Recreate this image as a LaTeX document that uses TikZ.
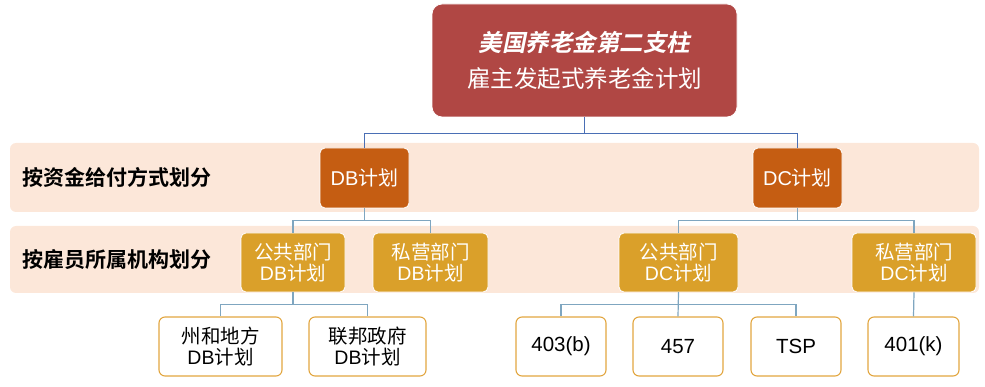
\documentclass[tikz,border=0pt]{standalone}
\usepackage{fontspec}
\setmainfont{Liberation Sans}
\newfontfamily\cjk{Noto Sans CJK SC}
\newfontfamily\cjkB{Noto Sans CJK SC Bold}
\newfontfamily\cjkBI[FakeSlant=0.2]{Noto Sans CJK SC Bold}
\definecolor{topred}{HTML}{B04744}
\definecolor{dborange}{HTML}{C55D12}
\definecolor{goldbox}{HTML}{DAA02A}
\definecolor{bandcol}{HTML}{FCE7D9}
\definecolor{leafborder}{HTML}{E2A640}
\definecolor{linecol}{HTML}{7FA6C0}
\definecolor{topblue}{HTML}{4A6FB5}
\begin{document}
\begin{tikzpicture}[x=1pt,y=-1pt,
  topbox/.style={fill=topred, draw=white, line width=0.8pt, rounded corners=10pt, text=white, align=center, inner sep=0pt, font=\fontsize{23.5}{36}\selectfont},
  lonebox/.style={fill=dborange, draw=white, line width=0.8pt, rounded corners=5pt, text=white, align=center, inner sep=0pt, font=\fontsize{20}{22}\selectfont},
  ltwobox/.style={fill=goldbox, draw=white, line width=0.8pt, rounded corners=5pt, text=white, align=center, inner sep=0pt, font=\fontsize{19.5}{21}\selectfont},
  leafbox/.style={fill=white, draw=leafborder, line width=1.1pt, rounded corners=6pt, text=black, align=center, inner sep=0pt, font=\fontsize{19.5}{21}\selectfont},
  band/.style={fill=bandcol, draw=none, rounded corners=6pt},
  bandlabel/.style={anchor=west, inner sep=0pt, text=black, font=\cjkB\fontsize{21}{24}\selectfont},
  conn/.style={draw=linecol, line width=1.2pt},
  topconn/.style={draw=topblue, line width=1.2pt}
]
\useasboundingbox (0,0) rectangle (985,387);
% bands
\path[band] (10,143) rectangle (979,212);
\path[band] (10,226) rectangle (979,293);
\node[bandlabel] (lab1) at (22,177) {按资金给付方式划分};
\node[bandlabel] (lab2) at (22,259) {按雇员所属机构划分};
% top
\node[topbox, minimum width=305pt, minimum height=113pt] (top) at (584.5,60.5) {{\cjkBI 美国养老金第二支柱}\\{\cjk 雇主发起式养老金计划}};
% level 1
\node[lonebox, minimum width=89pt, minimum height=60pt] (db) at (364.5,178) {DB{\cjk 计划}};
\node[lonebox, minimum width=89pt, minimum height=60pt] (dc) at (797.5,178) {DC{\cjk 计划}};
% level 2
\node[ltwobox, minimum width=104pt, minimum height=59pt] (pubdb) at (293,262.5) {{\cjk 公共部门}\\DB{\cjk 计划}};
\node[ltwobox, minimum width=115pt, minimum height=59pt] (privdb) at (430.5,262.5) {{\cjk 私营部门}\\DB{\cjk 计划}};
\node[ltwobox, minimum width=119pt, minimum height=59pt] (pubdc) at (678.5,262.5) {{\cjk 公共部门}\\DC{\cjk 计划}};
\node[ltwobox, minimum width=124pt, minimum height=59pt] (privdc) at (914,262.5) {{\cjk 私营部门}\\DC{\cjk 计划}};
% level 3
\node[leafbox, minimum width=123pt, minimum height=59pt] (sl) at (220.5,346.5) {{\cjk 州和地方}\\DB{\cjk 计划}};
\node[leafbox, minimum width=117pt, minimum height=59pt] (fed) at (367.5,346.5) {{\cjk 联邦政府}\\DB{\cjk 计划}};
\node[leafbox, minimum width=90pt, minimum height=59pt, font=\fontsize{20.5}{22}\selectfont] (b403) at (561,346.5) {403(b)};
\node[leafbox, minimum width=90pt, minimum height=59pt, font=\fontsize{20.5}{22}\selectfont] (n457) at (678,346.5) {457};
\node[leafbox, minimum width=90pt, minimum height=59pt, font=\fontsize{20.5}{22}\selectfont] (tsp) at (796,346.5) {TSP};
\node[leafbox, minimum width=91pt, minimum height=59pt, font=\fontsize{20.5}{22}\selectfont] (k401) at (913.5,346.5) {401(k)};
% connectors
\draw[topconn] (top.south) -- ++(0,16) -| (db.north);
\draw[topconn] (top.south) -- ++(0,16) -| (dc.north);
\draw[conn] (db.south) -- ++(0,12) -| (pubdb.north);
\draw[conn] (db.south) -- ++(0,12) -| (privdb.north);
\draw[conn] (dc.south) -- ++(0,12) -| (pubdc.north);
\draw[conn] (dc.south) -- ++(0,12) -| (privdc.north);
\draw[conn] (pubdb.south) -- ++(0,12) -| (sl.north);
\draw[conn] (pubdb.south) -- ++(0,12) -| (fed.north);
\draw[conn] (pubdc.south) -- ++(0,12) -| (b403.north);
\draw[conn] (pubdc.south) -- (n457.north);
\draw[conn] (pubdc.south) -- ++(0,12) -| (tsp.north);
\draw[conn] (privdc.south) -- (k401.north);
\end{tikzpicture}
\end{document}
